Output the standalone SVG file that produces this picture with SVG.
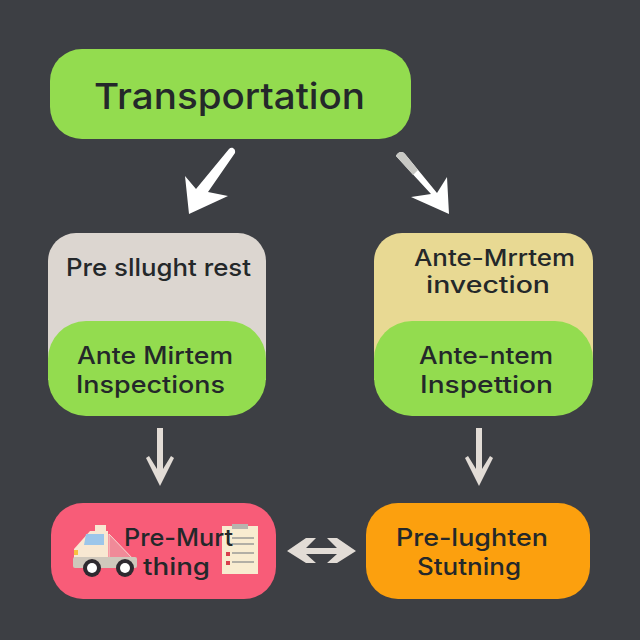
<svg xmlns="http://www.w3.org/2000/svg" width="640" height="640" viewBox="0 0 640 640">
<style>
text{font-family:"Inter","Noto Sans","Liberation Sans",sans-serif;fill:#24282a;font-weight:500;font-size:24px}
.s{font-size:22.5px}
.arrow{fill:#e2dcd6}
.white{fill:#fff}
</style>
<rect width="640" height="640" fill="#3d3f44"/>
<g id="transportation">
<rect x="50" y="49" width="361" height="90" rx="32" fill="#93dc4f"/>
<text x="94" y="109" textLength="271" lengthAdjust="spacingAndGlyphs" style="font-size:36px">Transportation</text>
</g>
<g id="pre-slaughter-rest">
<path d="M76 233H238A28 28 0 0 1 266 261V380H48V261A28 28 0 0 1 76 233Z" fill="#dcd6d0"/>
<text x="66" y="276" textLength="185" lengthAdjust="spacingAndGlyphs">Pre sllught rest</text>
</g>
<g id="ante-mortem-left">
<rect x="48" y="321" width="218" height="95" rx="38" fill="#93dc4f"/>
<text x="77" y="364" textLength="156" lengthAdjust="spacingAndGlyphs">Ante Mirtem</text>
<text x="76" y="393" textLength="149" lengthAdjust="spacingAndGlyphs">Inspections</text>
</g>
<g id="ante-mortem-invection">
<path d="M402 233H565A28 28 0 0 1 593 261V380H374V261A28 28 0 0 1 402 233Z" fill="#e8d993"/>
<text class="s" x="414" y="266" textLength="161" lengthAdjust="spacingAndGlyphs">Ante-Mrrtem</text>
<text class="s" x="426" y="293" textLength="124" lengthAdjust="spacingAndGlyphs">invection</text>
</g>
<g id="ante-mortem-right">
<rect x="374" y="321" width="219" height="95" rx="38" fill="#93dc4f"/>
<text x="419" y="364" textLength="134" lengthAdjust="spacingAndGlyphs">Ante-ntem</text>
<text x="420" y="393" textLength="133" lengthAdjust="spacingAndGlyphs">Inspettion</text>
</g>
<g id="pre-mortem-thing">
<rect x="51" y="503" width="225" height="96" rx="32" fill="#f85c78"/>
<path d="M74 560V549L90 531H108V560Z" fill="#f8e8d2"/>
<path d="M86 534H104V545H84Z" fill="#9cc6ea"/>
<path d="M95 525H106V531H95Z" fill="#f8e8d2"/>
<path d="M109 534L135 561H109Z" fill="#f08a98" stroke="#f8d8d0" stroke-width="1"/>
<rect x="73" y="557" width="64" height="11" rx="2" fill="#cfc8bc"/>
<rect x="74" y="550" width="4" height="5" fill="#f8c040"/>
<circle cx="92" cy="568" r="9" fill="#2e2a30"/><circle cx="92" cy="568" r="5" fill="#fff"/>
<circle cx="125" cy="568" r="9" fill="#2e2a30"/><circle cx="125" cy="568" r="5" fill="#fff"/>
<rect x="222" y="526" width="36" height="48" fill="#f8ecd0"/>
<rect x="232" y="524" width="16" height="5" fill="#b8b4ae"/>
<path d="M232 538H254M232 544H254M232 553H254M232 562H254" stroke="#9a9a96" stroke-width="1.5"/>
<rect x="226" y="552" width="4" height="4" fill="#d8404c"/><rect x="226" y="561" width="4" height="4" fill="#d8404c"/>
<text x="124" y="546" textLength="109" lengthAdjust="spacingAndGlyphs">Pre-Murt</text>
<text x="143" y="575" textLength="67" lengthAdjust="spacingAndGlyphs">thing</text>
</g>
<g id="pre-slaughter-stunning">
<rect x="366" y="503" width="224" height="96" rx="32" fill="#fca00e"/>
<text x="396" y="546" textLength="152" lengthAdjust="spacingAndGlyphs">Pre-lughten</text>
<text x="417" y="575" textLength="104" lengthAdjust="spacingAndGlyphs">Stutning</text>
</g>
<g id="connectors">
<path class="white" d="M229 149C232 146 236 149 235 153L208 192L228 196L189 214L185 176L196 189Z"/>
<path class="white" d="M396 156C398 151 403 151 405 154L437 193L447 177L449 214L411 197L431 194Z"/>
<path fill="#c8c8c4" d="M396 156C398 151 403 151 405 154L418 170L413 175Z"/>
<path class="arrow" d="M157 428H163V469L171 456L174 458L160 486L146 458L149 456L157 469Z"/>
<path class="arrow" d="M476 428H482V469L490 456L493 458L479 486L465 458L468 456L476 469Z"/>
<path class="arrow" d="M287 551L306 538H316L306 548H337L327 538H337L356 551L337 563H327L337 554H306L316 563H306Z"/>
</g>
</svg>
